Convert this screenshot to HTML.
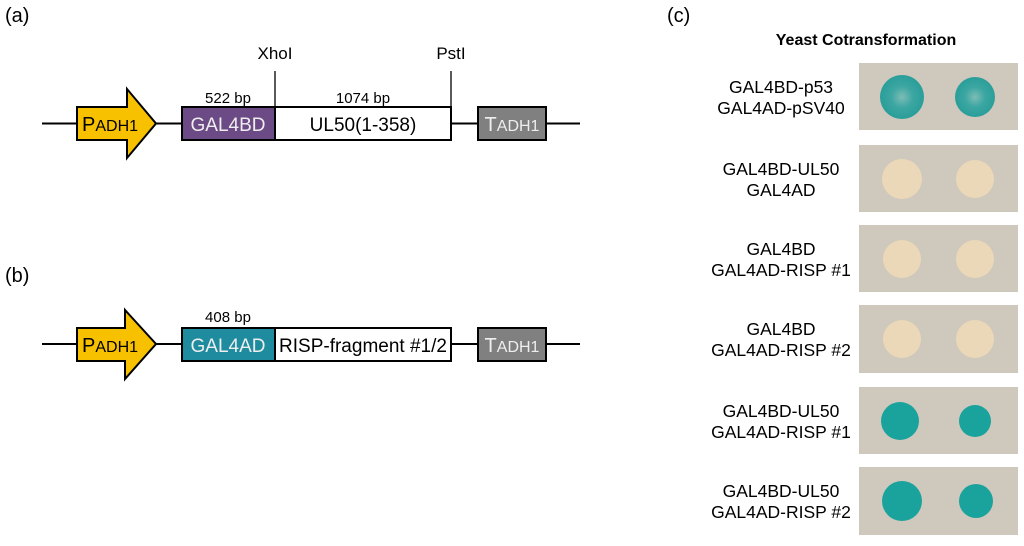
<!DOCTYPE html>
<html><head><style>
body{margin:0;background:#fff;}
svg text{font-family:"Liberation Sans",Arial,sans-serif;}
</style></head><body>
<svg width="1024" height="541" viewBox="0 0 1024 541" xmlns="http://www.w3.org/2000/svg">
<defs>
<radialGradient id="bl" cx="50%" cy="50%" r="50%"><stop offset="0" stop-color="#7dbdb6"/><stop offset="0.5" stop-color="#3ca6a2"/><stop offset="1" stop-color="#2a9e9a"/></radialGradient>
</defs>
<text x="5" y="22" font-size="20">(a)</text>
<text x="5" y="282" font-size="20">(b)</text>
<text x="667" y="22" font-size="20">(c)</text>

<!-- (a) -->
<line x1="42" y1="123.5" x2="580" y2="123.5" stroke="#000" stroke-width="2"/>
<polygon points="77,107 127,107 127,89 156,123.5 127,158 127,140 77,140" fill="#F7C100" stroke="#000" stroke-width="2"/>
<text x="82" y="131" font-size="20">P<tspan font-size="16">ADH1</tspan></text>
<rect x="182" y="107" width="93" height="33" fill="#6B4A85" stroke="#000" stroke-width="2"/>
<text x="228" y="131" font-size="19" fill="#eee" text-anchor="middle">GAL4BD</text>
<rect x="275" y="107" width="176" height="33" fill="#fff" stroke="#000" stroke-width="2"/>
<text x="363" y="131" font-size="19" text-anchor="middle">UL50(1-358)</text>
<rect x="478" y="107" width="68" height="33" fill="#808080" stroke="#000" stroke-width="2"/>
<text x="512" y="131" font-size="20" fill="#eee" text-anchor="middle">T<tspan font-size="16">ADH1</tspan></text>
<line x1="275" y1="71" x2="275" y2="107" stroke="#000" stroke-width="1.3"/>
<line x1="451" y1="71" x2="451" y2="107" stroke="#000" stroke-width="1.3"/>
<text x="275" y="59" font-size="17" text-anchor="middle">XhoI</text>
<text x="451" y="59" font-size="17" text-anchor="middle">PstI</text>
<text x="228" y="103" font-size="15" text-anchor="middle">522 bp</text>
<text x="363" y="103" font-size="15" text-anchor="middle">1074 bp</text>

<!-- (b) -->
<line x1="42" y1="344" x2="580" y2="344" stroke="#000" stroke-width="2"/>
<polygon points="77,328 125,328 125,310 156,344 125,379 125,361 77,361" fill="#F7C100" stroke="#000" stroke-width="2"/>
<text x="82" y="352" font-size="20">P<tspan font-size="16">ADH1</tspan></text>
<rect x="182" y="328" width="93" height="33" fill="#1E8C9E" stroke="#000" stroke-width="2"/>
<text x="228" y="352" font-size="19" fill="#eee" text-anchor="middle">GAL4AD</text>
<rect x="275" y="328" width="176" height="33" fill="#fff" stroke="#000" stroke-width="2"/>
<text x="363" y="352" font-size="19" text-anchor="middle">RISP-fragment #1/2</text>
<rect x="478" y="328" width="68" height="33" fill="#808080" stroke="#000" stroke-width="2"/>
<text x="512" y="352" font-size="20" fill="#eee" text-anchor="middle">T<tspan font-size="16">ADH1</tspan></text>
<text x="228" y="322" font-size="15" text-anchor="middle">408 bp</text>

<!-- (c) -->
<text x="866" y="45" font-size="16" font-weight="bold" text-anchor="middle">Yeast Cotransformation</text>
<g fill="#cfc8bc">
<rect x="859" y="63" width="159" height="67"/>
<rect x="859" y="145" width="159" height="67"/>
<rect x="859" y="225" width="159" height="67"/>
<rect x="859" y="305" width="159" height="68"/>
<rect x="859" y="387" width="159" height="67"/>
<rect x="859" y="467" width="159" height="68"/>
</g>
<circle cx="902" cy="97" r="22" fill="url(#bl)"/>
<circle cx="975" cy="97" r="20" fill="url(#bl)"/>
<g fill="#ebd8b8">
<circle cx="902" cy="179" r="20"/><circle cx="975" cy="179" r="19"/>
<circle cx="902" cy="259" r="19"/><circle cx="975" cy="259" r="19"/>
<circle cx="902" cy="339" r="19"/><circle cx="975" cy="339" r="19"/>
</g>
<g fill="#1aa39c">
<circle cx="900" cy="421" r="19"/><circle cx="975" cy="421" r="16"/>
<circle cx="902" cy="501" r="20"/><circle cx="976" cy="501" r="17"/>
</g>
<g font-size="17.5" text-anchor="middle">
<text x="781" y="93">GAL4BD-p53</text><text x="781" y="114">GAL4AD-pSV40</text>
<text x="781" y="175">GAL4BD-UL50</text><text x="781" y="196">GAL4AD</text>
<text x="781" y="255">GAL4BD</text><text x="781" y="276">GAL4AD-RISP #1</text>
<text x="781" y="335">GAL4BD</text><text x="781" y="356">GAL4AD-RISP #2</text>
<text x="781" y="417">GAL4BD-UL50</text><text x="781" y="438">GAL4AD-RISP #1</text>
<text x="781" y="497">GAL4BD-UL50</text><text x="781" y="518">GAL4AD-RISP #2</text>
</g>
</svg>
</body></html>
